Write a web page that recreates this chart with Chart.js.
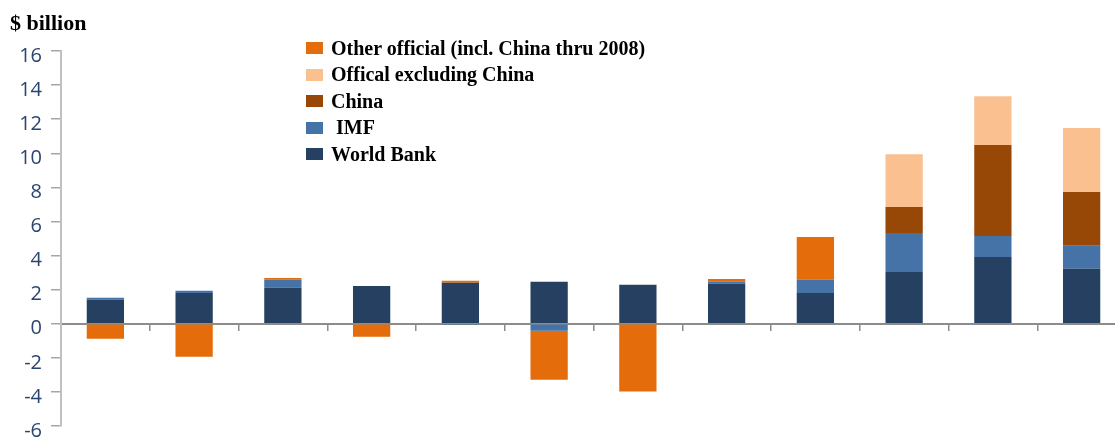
<!DOCTYPE html>
<html>
<head>
<meta charset="utf-8">
<script src="https://cdn.jsdelivr.net/npm/chart.js@4"></script>
<style>
  body { margin: 0; width: 1115px; height: 437px; overflow: hidden; background: #fff; position: relative; }
  #chart { position: absolute; left: 0; top: 0; }
  #unit { position: absolute; left: 10px; top: 10px; font: bold 22px "Liberation Serif", serif; color: #000; }
  #legend { position: absolute; left: 306px; top: 35px; font: bold 20px "Liberation Serif", serif; color: #000; }
  #legend .row { display: flex; align-items: center; height: 26.5px; white-space: pre; }
  #legend .box { width: 17px; height: 12px; margin-right: 8px; }
</style>
</head>
<body>
<canvas id="chart" width="1130" height="447"></canvas>
<div id="unit">$ billion</div>
<div id="legend"></div>
<script>
// categories are years, labels are not shown on the chart
const categories = ["2000", "2001", "2002", "2003", "2004", "2005", "2006", "2007", "2008", "2009", "2010", "2011"];
const yTicks = { min: -6, max: 16, step: 2 };

const worldBank = [1.40, 1.81, 2.11, 2.22, 2.40, 2.46, 2.28, 2.34, 1.81, 3.04, 3.92, 3.22];
const imf = [0.12, 0.12, 0.47, null, -0.08, -0.41, null, 0.12, 0.77, 2.29, 1.23, 1.35];
const china = [null, null, null, null, null, null, null, null, null, 1.52, 5.33, 3.16];
const officialExChina = [null, null, null, null, null, null, null, null, null, 3.10, 2.87, 3.75];
const otherOfficial = [-0.88, -1.93, 0.11, -0.76, 0.12, -2.87, -3.98, 0.17, 2.51, null, null, null];

// bottom of the stack first
const series = [
  { label: "World Bank", data: worldBank, color: "#254061" },
  { label: " IMF", data: imf, color: "#4572A7" },
  { label: "China", data: china, color: "#974706" },
  { label: "Offical excluding China", data: officialExChina, color: "#FAC090" },
  { label: "Other official (incl. China thru 2008)", data: otherOfficial, color: "#E46C0A" },
];

const datasets = series.map((s) => ({
  label: s.label,
  data: s.data,
  backgroundColor: s.color,
  borderWidth: 0,
  categoryPercentage: 1,
  barPercentage: 0.42,
}));

new Chart(document.getElementById("chart"), {
  type: "bar",
  data: { labels: categories, datasets },
  options: {
    responsive: false,
    animation: false,
    devicePixelRatio: 1,
    layout: { padding: { top: 51, bottom: 19, left: 0, right: 4 } },
    plugins: { legend: { display: false }, tooltip: { enabled: false } },
    scales: {
      x: {
        stacked: true,
        position: { y: 0 },
        ticks: { display: false },
        grid: { drawOnChartArea: false, drawTicks: true, tickLength: 6, color: "#8c8c8c", lineWidth: 1.5, offset: true },
        border: { color: "#8c8c8c", width: 2 },
      },
      y: {
        stacked: true,
        min: yTicks.min,
        max: yTicks.max,
        ticks: { stepSize: yTicks.step, color: "#2a4470", padding: 9, labelOffset: 5, font: { family: "Open Sans", size: 20 } },
        grid: { drawOnChartArea: false, tickLength: 10, color: "#a6a6a6", lineWidth: 1.5 },
        border: { color: "#c0c0c0", width: 2 },
        afterFit: (s) => { s.width = 61; },
      },
    },
  },
});

// legend, top entry is the top of the stack
const legend = document.getElementById("legend");
series.slice().reverse().forEach((s) => {
  const row = document.createElement("div");
  row.className = "row";
  row.innerHTML = `<span class="box" style="background:${s.color}"></span><span>${s.label}</span>`;
  legend.appendChild(row);
});
</script>
</body>
</html>
